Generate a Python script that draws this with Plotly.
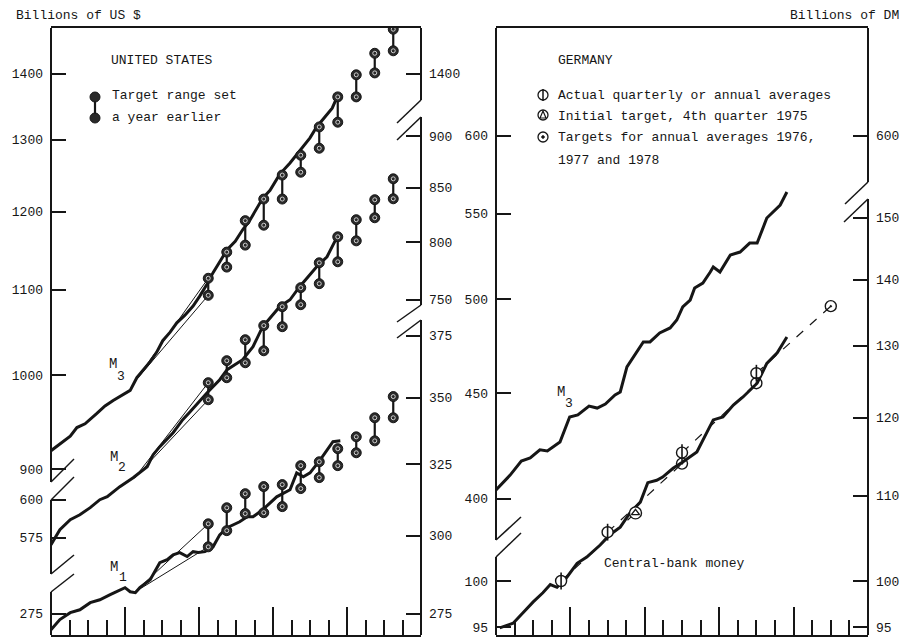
import plotly.graph_objects as go
import math

# ---------------- data ----------------
# United States, billions of US$
us_m3_t = [1974.00, 1974.12, 1974.26, 1974.35, 1974.46, 1974.62, 1974.73, 1974.84, 1974.96,
           1975.07, 1975.16, 1975.27, 1975.34, 1975.43, 1975.51, 1975.61, 1975.70, 1975.81, 1975.92,
           1976.01, 1976.11, 1976.19, 1976.28, 1976.38, 1976.49, 1976.59, 1976.69, 1976.77, 1976.86, 1976.96,
           1977.09, 1977.23, 1977.36, 1977.50, 1977.59, 1977.70, 1977.80, 1977.86]
us_m3_v = [919, 926, 934, 943, 947, 958, 966, 972, 978,
           983, 997, 1008, 1015, 1026, 1039, 1049, 1060, 1069, 1080,
           1092, 1107, 1121, 1134, 1150, 1161, 1176, 1189, 1202, 1218, 1229,
           1251, 1267, 1285, 1303, 1319, 1334, 1347, 1362]

us_m2_t = [1974.00, 1974.12, 1974.26, 1974.39, 1974.53, 1974.66, 1974.76, 1974.93,
           1975.11, 1975.20, 1975.30, 1975.38, 1975.47, 1975.65, 1975.78, 1975.88,
           1976.01, 1976.11, 1976.28, 1976.38, 1976.59, 1976.73, 1976.86,
           1977.09, 1977.23, 1977.36, 1977.59, 1977.73, 1977.86]
us_m2_v = [570.6, 580.2, 586.8, 590.0, 594.7, 600.0, 602.0, 608.8,
           614.9, 618.4, 622.5, 630.9, 636.6, 646.6, 656.1, 661.9,
           670.1, 676.1, 686.0, 693.7, 701.5, 711.7, 727.8,
           744.2, 750.0, 761.0, 778.2, 786.9, 803.7]

us_m1_t = [1974.00, 1974.12, 1974.26, 1974.39, 1974.53, 1974.66, 1974.80, 1974.93,
           1975.00, 1975.07, 1975.14, 1975.20, 1975.34, 1975.47, 1975.57, 1975.65, 1975.74, 1975.84, 1975.92, 1975.99,
           1976.08, 1976.19, 1976.28, 1976.38, 1976.55, 1976.65, 1976.73, 1976.86,
           1977.05, 1977.23, 1977.32, 1977.41, 1977.50, 1977.64, 1977.77, 1977.81, 1977.91]
us_m1_v = [270.1, 273.2, 275.3, 276.2, 278.4, 279.3, 280.9, 282.5,
           283.1, 281.8, 281.5, 283.1, 285.6, 291.1, 292.1, 293.7, 294.4, 293.1, 294.7, 294.4,
           294.7, 296.3, 300.3, 302.7, 304.7, 306.4, 306.4, 308.8,
           313.3, 315.8, 321.8, 320.4, 321.8, 326.6, 331.3, 333.2, 333.5]

# target ranges set a year earlier (quarter midpoints)
us_target_t = [1976.125, 1976.375, 1976.625, 1976.875, 1977.125, 1977.375,
               1977.625, 1977.875, 1978.125, 1978.375, 1978.625]
us_m3_hi = [1114, 1147, 1188, 1217, 1250, 1278, 1319, 1364, 1398, 1432, 1471]
us_m3_lo = [1093, 1128, 1156, 1182, 1217, 1254, 1288, 1326, 1364, 1401, 1436]
us_m2_hi = [683.7, 700.7, 717.3, 728.7, 744.2, 760.2, 781.6, 804.6, 820.1, 838.6, 858.4]
us_m2_lo = [670.8, 687.5, 699.1, 708.5, 727.8, 745.9, 763.6, 782.5, 801.0, 821.9, 839.5]
us_m1_hi = [304.0, 309.5, 314.4, 316.9, 317.6, 324.4, 325.8, 330.6, 335.0, 342.2, 350.4]
us_m1_lo = [296.3, 301.7, 307.5, 307.8, 309.9, 316.2, 320.1, 324.4, 329.1, 333.5, 342.2]

# base of the first target cone (1st quarter 1975)
us_base_t = 1975.125
us_m3_base = 992
us_m2_base = 614.5
us_m1_base = 281.6

# Germany, billions of DM
de_m3_t = [1974.00, 1974.19, 1974.34, 1974.46, 1974.59, 1974.69, 1974.86, 1974.99,
           1975.10, 1975.25, 1975.36, 1975.47, 1975.60, 1975.67, 1975.76, 1975.84, 1975.98,
           1976.07, 1976.20, 1976.34, 1976.43, 1976.51, 1976.61, 1976.67, 1976.78, 1976.88, 1976.92,
           1977.01, 1977.15, 1977.28, 1977.41, 1977.51, 1977.64, 1977.82, 1977.91]
de_m3_v = [404.0, 410.8, 417.3, 418.7, 422.5, 422.0, 426.2, 438.3,
           439.3, 443.7, 442.7, 444.7, 449.2, 450.7, 463.5, 468.1, 476.6,
           476.6, 481.4, 484.1, 488.4, 495.6, 499.4, 506.2, 509.0, 515.3, 518.2,
           515.3, 525.2, 526.9, 532.2, 532.2, 547.3, 555.3, 563.4]

de_cbm_t = [1974.05, 1974.23, 1974.36, 1974.50, 1974.63, 1974.73, 1974.82, 1974.95,
            1975.09, 1975.22, 1975.40, 1975.53, 1975.67, 1975.80, 1975.94,
            1976.04, 1976.16, 1976.24, 1976.38, 1976.51, 1976.70, 1976.92,
            1977.05, 1977.19, 1977.32, 1977.51, 1977.64, 1977.78, 1977.91]
de_cbm_v = [94.9, 95.4, 96.5, 97.7, 98.7, 99.6, 99.3, 100.4,
            102.0, 102.7, 104.1, 105.3, 106.2, 107.9, 109.2,
            111.6, 111.9, 112.3, 113.4, 114.2, 115.5, 119.7,
            120.1, 121.7, 122.8, 124.7, 127.5, 129.0, 131.3]

de_actual_t = [1974.875, 1975.5, 1976.5, 1977.5]
de_actual_v = [100.0, 105.6, 115.4, 126.1]
de_init_t = [1975.875]
de_init_v = [107.9]
de_target_t = [1976.5, 1977.5, 1978.5]
de_target_v = [114.0, 124.7, 135.9]

# tick labels
us_m3_left_ticks = [900, 1000, 1100, 1200, 1300, 1400]
us_m3_right_ticks = [1400]
us_m2_left_ticks = [575, 600]
us_m2_right_ticks = [750, 800, 850, 900]
us_m1_left_ticks = [275]
us_m1_right_ticks = [275, 300, 325, 350, 375]
de_m3_left_ticks = [400, 450, 500, 550, 600]
de_m3_right_ticks = [600]
de_cbm_left_ticks = [95, 100]
de_cbm_right_ticks = [95, 100, 110, 120, 130, 140, 150]

# ---------------- layout constants ----------------
W, H = 903, 640
L1, R1 = 51, 421      # left panel, pixels
L2, R2 = 496, 868     # right panel, pixels
TOP, BOT = 28, 635
PPD = 2063.0          # pixels per decade (ratio scale)
FONT = "Liberation Mono"
INK = "#161616"


def px(x):
    return x / W


def py(y):
    return 1 - y / H


def log_range(ref_val, ref_px):
    c = math.log10(ref_val)
    return [c - (BOT - ref_px) / PPD, c + (ref_px - TOP) / PPD]


RANGE_US_M3 = log_range(1000, 375)
RANGE_US_M2 = log_range(600, 499.7)
RANGE_US_M1 = log_range(300, 535.7)
RANGE_DE_M3 = log_range(500, 299)
RANGE_DE_CBM = log_range(100, 581)

YDOM = [py(BOT), py(TOP)]


def yax(rng, ticks, side, anchor, overlay=None):
    d = dict(type="log", range=rng, showgrid=False, zeroline=False, showline=False,
             ticks="inside", ticklen=15, tickwidth=1.5, tickcolor=INK,
             tickmode="array", tickvals=ticks, ticktext=[str(t) for t in ticks],
             tickfont=dict(family=FONT, size=13, color=INK),
             side=side, anchor=anchor, automargin=False, ticklabelstandoff=7,
             fixedrange=True)
    if overlay:
        d["overlaying"] = overlay
    else:
        d["domain"] = YDOM
    return d


def xax(dom, anchor):
    return dict(domain=dom, range=[1974, 1979], anchor=anchor, showgrid=False, zeroline=False,
                showline=True, mirror=True, linewidth=2, linecolor=INK,
                ticks="inside", tickmode="linear", tick0=1974, dtick=1, ticklen=28,
                tickwidth=1.5, tickcolor=INK, showticklabels=False, automargin=False,
                minor=dict(ticks="inside", ticklen=15, tickwidth=1.5, tickcolor=INK,
                           dtick=0.25, tick0=1974, showgrid=False),
                fixedrange=True)


fig = go.Figure()


def add_line(t, v, xa, ya, width=3, dash=None, color=INK):
    fig.add_trace(go.Scatter(x=t, y=v, xaxis=xa, yaxis=ya, mode="lines",
                             line=dict(color=color, width=width, dash=dash),
                             showlegend=False, hoverinfo="skip"))


def add_carrier(t, v, xa, ya):
    # invisible copy so that the secondary (label-only) axis is drawn
    fig.add_trace(go.Scatter(x=t, y=v, xaxis=xa, yaxis=ya, mode="lines", opacity=0,
                             line=dict(color="white", width=0.1),
                             showlegend=False, hoverinfo="skip"))


def add_cone(base, hi, lo, ya):
    fig.add_trace(go.Scatter(x=[us_base_t, us_target_t[0], None, us_base_t, us_target_t[0]],
                             y=[base, hi[0], None, base, lo[0]], xaxis="x", yaxis=ya,
                             mode="lines", line=dict(color=INK, width=1),
                             showlegend=False, hoverinfo="skip"))


def add_ranges(hi, lo, ya):
    bx, by = [], []
    for t, a, b in zip(us_target_t, lo, hi):
        bx += [t, t, None]
        by += [a, b, None]
    fig.add_trace(go.Scatter(x=bx, y=by, xaxis="x", yaxis=ya, mode="lines",
                             line=dict(color=INK, width=2.2), showlegend=False, hoverinfo="skip"))
    for vals in (hi, lo):
        fig.add_trace(go.Scatter(x=us_target_t, y=vals, xaxis="x", yaxis=ya, mode="markers",
                                 marker=dict(symbol="circle", size=10, color="#2a2a2a",
                                             line=dict(color=INK, width=1)),
                                 showlegend=False, hoverinfo="skip"))
        fig.add_trace(go.Scatter(x=us_target_t, y=vals, xaxis="x", yaxis=ya, mode="markers",
                                 marker=dict(symbol="circle-open", size=4, color="#cfcfcf",
                                             line=dict(width=1)),
                                 showlegend=False, hoverinfo="skip"))


# United States
add_cone(us_m3_base, us_m3_hi, us_m3_lo, "y")
add_cone(us_m2_base, us_m2_hi, us_m2_lo, "y3")
add_cone(us_m1_base, us_m1_hi, us_m1_lo, "y5")
add_line(us_m3_t, us_m3_v, "x", "y")
add_line(us_m2_t, us_m2_v, "x", "y3")
add_line(us_m1_t, us_m1_v, "x", "y5")
add_carrier(us_m3_t, us_m3_v, "x", "y2")
add_carrier(us_m2_t, us_m2_v, "x", "y4")
add_carrier(us_m1_t, us_m1_v, "x", "y6")
add_ranges(us_m3_hi, us_m3_lo, "y")
add_ranges(us_m2_hi, us_m2_lo, "y3")
add_ranges(us_m1_hi, us_m1_lo, "y5")

# Germany
add_line(de_m3_t, de_m3_v, "x2", "y7")
add_line(de_cbm_t, de_cbm_v, "x2", "y9")
add_carrier(de_m3_t, de_m3_v, "x2", "y8")
add_carrier(de_cbm_t, de_cbm_v, "x2", "y10")
dx, dy = [], []
ends_t = de_init_t + de_target_t
ends_v = de_init_v + de_target_v
for t0, v0, t1, v1 in zip(de_actual_t, de_actual_v, ends_t, ends_v):
    dx += [t0, t1, None]
    dy += [v0, v1, None]
add_line(dx, dy, "x2", "y9", width=1.2, dash="dash")

mk = dict(xaxis="x2", yaxis="y9", mode="markers", showlegend=False, hoverinfo="skip")
fig.add_trace(go.Scatter(x=de_actual_t, y=de_actual_v,
                         marker=dict(symbol="circle", size=11, color="white",
                                     line=dict(color=INK, width=1.4)), **mk))
fig.add_trace(go.Scatter(x=de_actual_t, y=de_actual_v,
                         marker=dict(symbol="line-ns-open", size=12, color=INK,
                                     line=dict(width=1.6)), **mk))
fig.add_trace(go.Scatter(x=de_init_t, y=de_init_v,
                         marker=dict(symbol="circle", size=12, color="white",
                                     line=dict(color=INK, width=1.4)), **mk))
fig.add_trace(go.Scatter(x=de_init_t, y=de_init_v,
                         marker=dict(symbol="triangle-up-open", size=7, color=INK,
                                     line=dict(width=1.4)), **mk))
fig.add_trace(go.Scatter(x=de_target_t, y=de_target_v,
                         marker=dict(symbol="circle-open-dot", size=11, color=INK,
                                     line=dict(width=1.4)), **mk))

# ---------------- axes ----------------
layout_axes = dict(
    xaxis=xax([px(L1), px(R1)], "y"),
    xaxis2=xax([px(L2), px(R2)], "y7"),
    yaxis=yax(RANGE_US_M3, us_m3_left_ticks, "left", "x"),
    yaxis2=yax(RANGE_US_M3, us_m3_right_ticks, "right", "x", "y"),
    yaxis3=yax(RANGE_US_M2, us_m2_left_ticks, "left", "x", "y"),
    yaxis4=yax(RANGE_US_M2, us_m2_right_ticks, "right", "x", "y"),
    yaxis5=yax(RANGE_US_M1, us_m1_left_ticks, "left", "x", "y"),
    yaxis6=yax(RANGE_US_M1, us_m1_right_ticks, "right", "x", "y"),
    yaxis7=yax(RANGE_DE_M3, de_m3_left_ticks, "left", "x2"),
    yaxis8=yax(RANGE_DE_M3, de_m3_right_ticks, "right", "x2", "y7"),
    yaxis9=yax(RANGE_DE_CBM, de_cbm_left_ticks, "left", "x2", "y7"),
    yaxis10=yax(RANGE_DE_CBM, de_cbm_right_ticks, "right", "x2", "y7"),
)

# ---------------- frame segments with scale breaks ----------------
shapes = []


def seg(x0, y0, x1, y1, w=2):
    shapes.append(dict(type="line", xref="paper", yref="paper",
                       x0=px(x0), y0=py(y0), x1=px(x1), y1=py(y1),
                       line=dict(color=INK, width=w)))


for (x, a, b) in [(L1, TOP, 482), (L1, 500, 574), (L1, 592, BOT),
                  (R1, TOP, 100), (R1, 117, 305), (R1, 320, BOT),
                  (L2, TOP, 540), (L2, 557, BOT),
                  (R2, TOP, 182), (R2, 199, BOT)]:
    seg(x, a, x, b)

for (x0, y0, x1, y1) in [(L1, 482, 74, 459), (L1, 500, 74, 477), (L1, 574, 74, 555), (L1, 592, 74, 574),
                         (R1, 100, 397, 123), (R1, 117, 397, 140), (R1, 305, 397, 322), (R1, 320, 397, 338),
                         (L2, 540, 521, 517), (L2, 557, 521, 533),
                         (R2, 182, 845, 204), (R2, 199, 844, 222)]:
    seg(x0, y0, x1, y1, 1.5)


def circ(cx, cy, r, fill="white", w=1.3):
    shapes.append(dict(type="circle", xref="paper", yref="paper",
                       x0=px(cx - r), x1=px(cx + r), y0=py(cy + r), y1=py(cy - r),
                       fillcolor=fill, line=dict(color=INK, width=w)))


# US legend key
seg(95, 97, 95, 118, 2.2)
circ(95, 97, 5, "#2a2a2a", 1)
circ(95, 118, 5, "#2a2a2a", 1)
# Germany legend keys
circ(543, 95, 5)
seg(543, 89, 543, 101, 1.5)
circ(543, 115, 5)
shapes.append(dict(type="path", xref="paper", yref="paper",
                   path="M {} {} L {} {} L {} {} Z".format(px(540), py(118), px(543), py(111), px(546), py(118)),
                   line=dict(color=INK, width=1.2)))
circ(543, 137, 5)
circ(543, 137, 1.3, INK, 1)

# ---------------- text ----------------
annotations = []


def txt(s, x, y, anchor="left", size=13):
    annotations.append(dict(text=s, x=px(x), y=py(y), xref="paper", yref="paper",
                            xanchor=anchor, yanchor="middle", showarrow=False,
                            font=dict(family=FONT, size=size, color=INK)))


txt("Billions of US $", 14, 15)
txt("Billions of DM", 901, 15, "right")
txt("UNITED STATES", 109, 60)
txt("Target range set", 110, 95)
txt("a year earlier", 110, 117)
txt("GERMANY", 556, 60)
txt("Actual quarterly or annual averages", 556, 95)
txt("Initial target, 4th quarter 1975", 556, 116)
txt("Targets for annual averages 1976,", 556, 137)
txt("1977 and 1978", 556, 160)
txt("Central-bank money", 602, 563)
for m, sub, mx, my, sx, sy in [("M", "3", 113, 364, 121, 376), ("M", "2", 114, 457, 122, 467),
                               ("M", "1", 114, 567, 123, 577), ("M", "3", 561, 392, 569, 403)]:
    txt(m, mx, my, "center", 14)
    txt(sub, sx, sy, "center", 13)

fig.update_layout(
    width=W, height=H, margin=dict(l=0, r=0, t=0, b=0),
    paper_bgcolor="white", plot_bgcolor="white", showlegend=False,
    shapes=shapes, annotations=annotations, **layout_axes)

fig.write_html("out.html", config={"displayModeBar": False},
               post_script="document.body.style.margin='0px';document.body.style.padding='0px';")
